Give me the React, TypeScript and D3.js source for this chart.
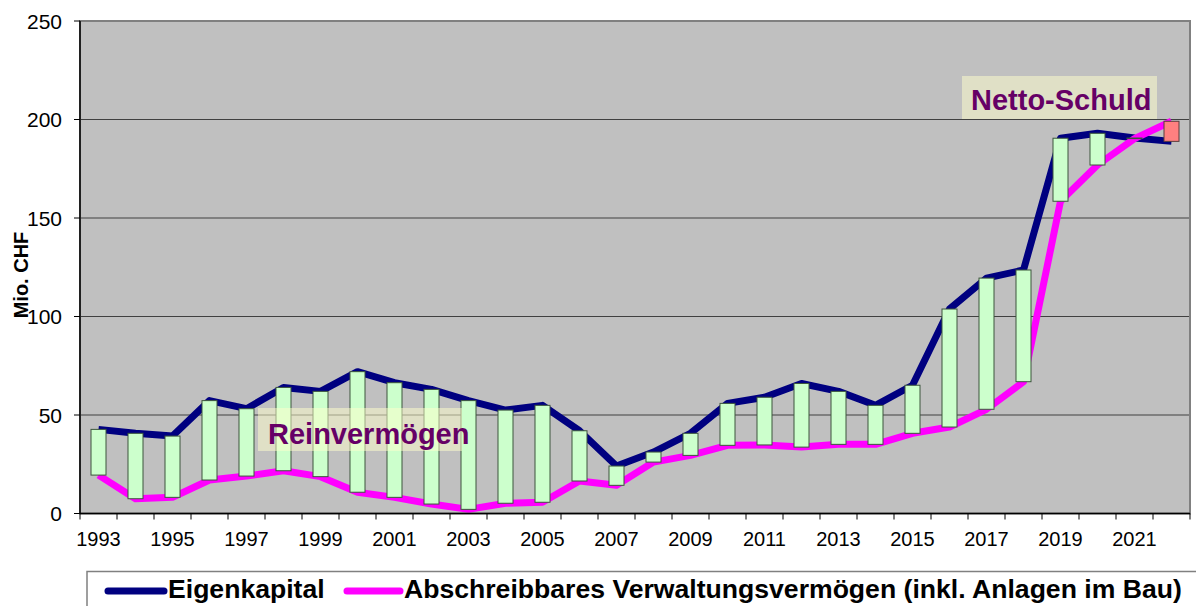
import React, { useRef, useEffect } from "react";
import * as d3 from "d3";

// Jahre (Kategorien)
const years = [
  "1993", "1994", "1995", "1996", "1997", "1998", "1999", "2000", "2001", "2002",
  "2003", "2004", "2005", "2006", "2007", "2008", "2009", "2010", "2011", "2012",
  "2013", "2014", "2015", "2016", "2017", "2018", "2019", "2020", "2021", "2022",
];

// Mio. CHF
const eigenkapital = [
  42.7, 40.7, 39.3, 57.3, 53.2, 64.0, 62.0, 72.0, 66.4, 63.0,
  57.3, 52.5, 54.9, 42.0, 24.1, 31.2, 40.7, 55.9, 59.0, 66.0,
  62.0, 54.9, 65.1, 103.8, 119.5, 123.6, 190.5, 193.0, 190.6, 188.9,
];
const verwaltungsvermoegen = [
  19.5, 7.5, 8.2, 17.0, 19.0, 21.7, 18.7, 10.8, 8.2, 4.8,
  2.1, 5.2, 5.7, 16.5, 14.3, 26.1, 29.5, 34.6, 34.8, 33.7,
  35.1, 35.1, 40.7, 43.9, 52.9, 66.9, 158.5, 176.9, 190.3, 199.1,
];

const yTicks = [0, 50, 100, 150, 200, 250];
const seriesNames = ["Eigenkapital", "Abschreibbares Verwaltungsvermögen (inkl. Anlagen im Bau)"];
const seriesColors = ["#000080", "#FF00FF"];
const labelTexts = ["Reinvermögen", "Netto-Schuld"];

const FONT = "'Liberation Sans', Arial, sans-serif";

export default function App() {
  const svgRef = useRef<SVGSVGElement>(null);

  useEffect(() => {
    const svg = d3.select(svgRef.current);
    svg.selectAll("*").remove();

    const width = 1196;
    const height = 606;
    const margin = { top: 21, right: 6, bottom: 92.5, left: 80 };
    const w = width - margin.left - margin.right;
    const h = height - margin.top - margin.bottom;

    svg.attr("width", width).attr("height", height).style("font-family", FONT);

    const g = svg.append("g").attr("transform", `translate(${margin.left},${margin.top})`);

    const x = d3.scaleBand<string>().domain(years).range([0, w]);
    const y = d3.scaleLinear().domain([0, 250]).range([h, 0]);
    const cx = (yr: string) => (x(yr) as number) + x.bandwidth() / 2;

    // Plotfläche
    g.append("rect").attr("width", w).attr("height", h).attr("fill", "#C0C0C0");

    // Gitterlinien
    g.selectAll(".grid")
      .data(yTicks.filter((t) => t > 0 && t < 250))
      .join("line")
      .attr("x1", 0)
      .attr("x2", w)
      .attr("y1", (d) => y(d))
      .attr("y2", (d) => y(d))
      .attr("stroke", "#404040")
      .attr("stroke-width", 1);

    g.append("rect")
      .attr("width", w)
      .attr("height", h)
      .attr("fill", "none")
      .attr("stroke", "#808080")
      .attr("stroke-width", 2);

    // Linien
    const rows = years.map((yr, i) => ({ yr, ek: eigenkapital[i], vv: verwaltungsvermoegen[i] }));
    [eigenkapital, verwaltungsvermoegen].forEach((vals, s) => {
      const line = d3
        .line<number>()
        .x((_, i) => cx(years[i]))
        .y((d) => y(d));
      g.append("path")
        .datum(vals)
        .attr("d", line)
        .attr("fill", "none")
        .attr("stroke", seriesColors[s])
        .attr("stroke-width", 7)
        .attr("stroke-linejoin", "round");
    });

    // Up-/Down-Bars
    const barW = 15;
    g.selectAll(".bar")
      .data(rows)
      .join("rect")
      .attr("x", (d) => cx(d.yr) - barW / 2)
      .attr("width", barW)
      .attr("y", (d) => y(Math.max(d.ek, d.vv)))
      .attr("height", (d) => Math.max(0.5, Math.abs(y(d.ek) - y(d.vv))))
      .attr("fill", (d) => (d.ek >= d.vv ? "#CCFFCC" : "#FF8080"))
      .attr("stroke", (d) => (d.ek >= d.vv ? "#3C553C" : "#5A3C3C"))
      .attr("stroke-width", 1);

    // Achsen
    g.append("line")
      .attr("x1", 0).attr("x2", 0).attr("y1", 0).attr("y2", h)
      .attr("stroke", "#000").attr("stroke-width", 1.5);
    g.append("line")
      .attr("x1", 0).attr("x2", w).attr("y1", h).attr("y2", h)
      .attr("stroke", "#000").attr("stroke-width", 1.5);

    const yAxis = g.append("g");
    yTicks.forEach((t) => {
      yAxis.append("line")
        .attr("x1", -6).attr("x2", 0).attr("y1", y(t)).attr("y2", y(t))
        .attr("stroke", "#000");
      yAxis.append("text")
        .attr("x", -18)
        .attr("y", y(t))
        .attr("dy", "0.36em")
        .attr("text-anchor", "end")
        .attr("font-size", 21)
        .attr("fill", "#000")
        .text(t);
    });

    const xAxis = g.append("g");
    [...years.map((yr) => x(yr) as number), w].forEach((px) => {
      xAxis.append("line")
        .attr("x1", px).attr("x2", px).attr("y1", h).attr("y2", h + 6)
        .attr("stroke", "#000");
    });
    years.forEach((yr, i) => {
      if (i % 2 !== 0) return;
      xAxis.append("text")
        .attr("x", cx(yr))
        .attr("y", h + 32)
        .attr("text-anchor", "middle")
        .attr("font-size", 20)
        .attr("fill", "#000")
        .text(yr);
    });

    // Y-Achsentitel
    svg.append("text")
      .attr("transform", "translate(27.5,275) rotate(-90)")
      .attr("text-anchor", "middle")
      .attr("font-size", 20)
      .attr("font-weight", "bold")
      .attr("fill", "#000")
      .text("Mio. CHF");

    // Beschriftungen
    const labels = [
      { text: labelTexts[0], box: [258, 408, 204, 43], tx: 268, ty: 443.5 },
      { text: labelTexts[1], box: [962, 76, 195, 43], tx: 971, ty: 110 },
    ];
    labels.forEach((l) => {
      svg.append("rect")
        .attr("x", l.box[0]).attr("y", l.box[1])
        .attr("width", l.box[2]).attr("height", l.box[3])
        .attr("fill", "#FFFFCC").attr("fill-opacity", 0.5);
      svg.append("text")
        .attr("x", l.tx).attr("y", l.ty)
        .attr("font-size", 29)
        .attr("font-weight", "bold")
        .attr("fill", "#660066")
        .text(l.text);
    });

    // Legende
    const leg = svg.append("g");
    leg.append("rect")
      .attr("x", 87).attr("y", 571.5)
      .attr("width", 1120).attr("height", 60)
      .attr("fill", "#fff").attr("stroke", "#808080").attr("stroke-width", 1.5);
    const legItems = [
      { x1: 108, x2: 164, tx: 168 },
      { x1: 347, x2: 400, tx: 404 },
    ];
    legItems.forEach((it, i) => {
      leg.append("line")
        .attr("x1", it.x1).attr("x2", it.x2).attr("y1", 591).attr("y2", 591)
        .attr("stroke", seriesColors[i]).attr("stroke-width", 7).attr("stroke-linecap", "round");
      leg.append("text")
        .attr("x", it.tx).attr("y", 598)
        .attr("font-size", 26.6)
        .attr("font-weight", "bold")
        .attr("fill", "#000")
        .text(seriesNames[i]);
    });
  }, []);

  return (
    <svg
      ref={svgRef}
      width={1196}
      height={606}
      style={{ position: "absolute", left: 0, top: 0, display: "block", background: "#fff" }}
    />
  );
}
